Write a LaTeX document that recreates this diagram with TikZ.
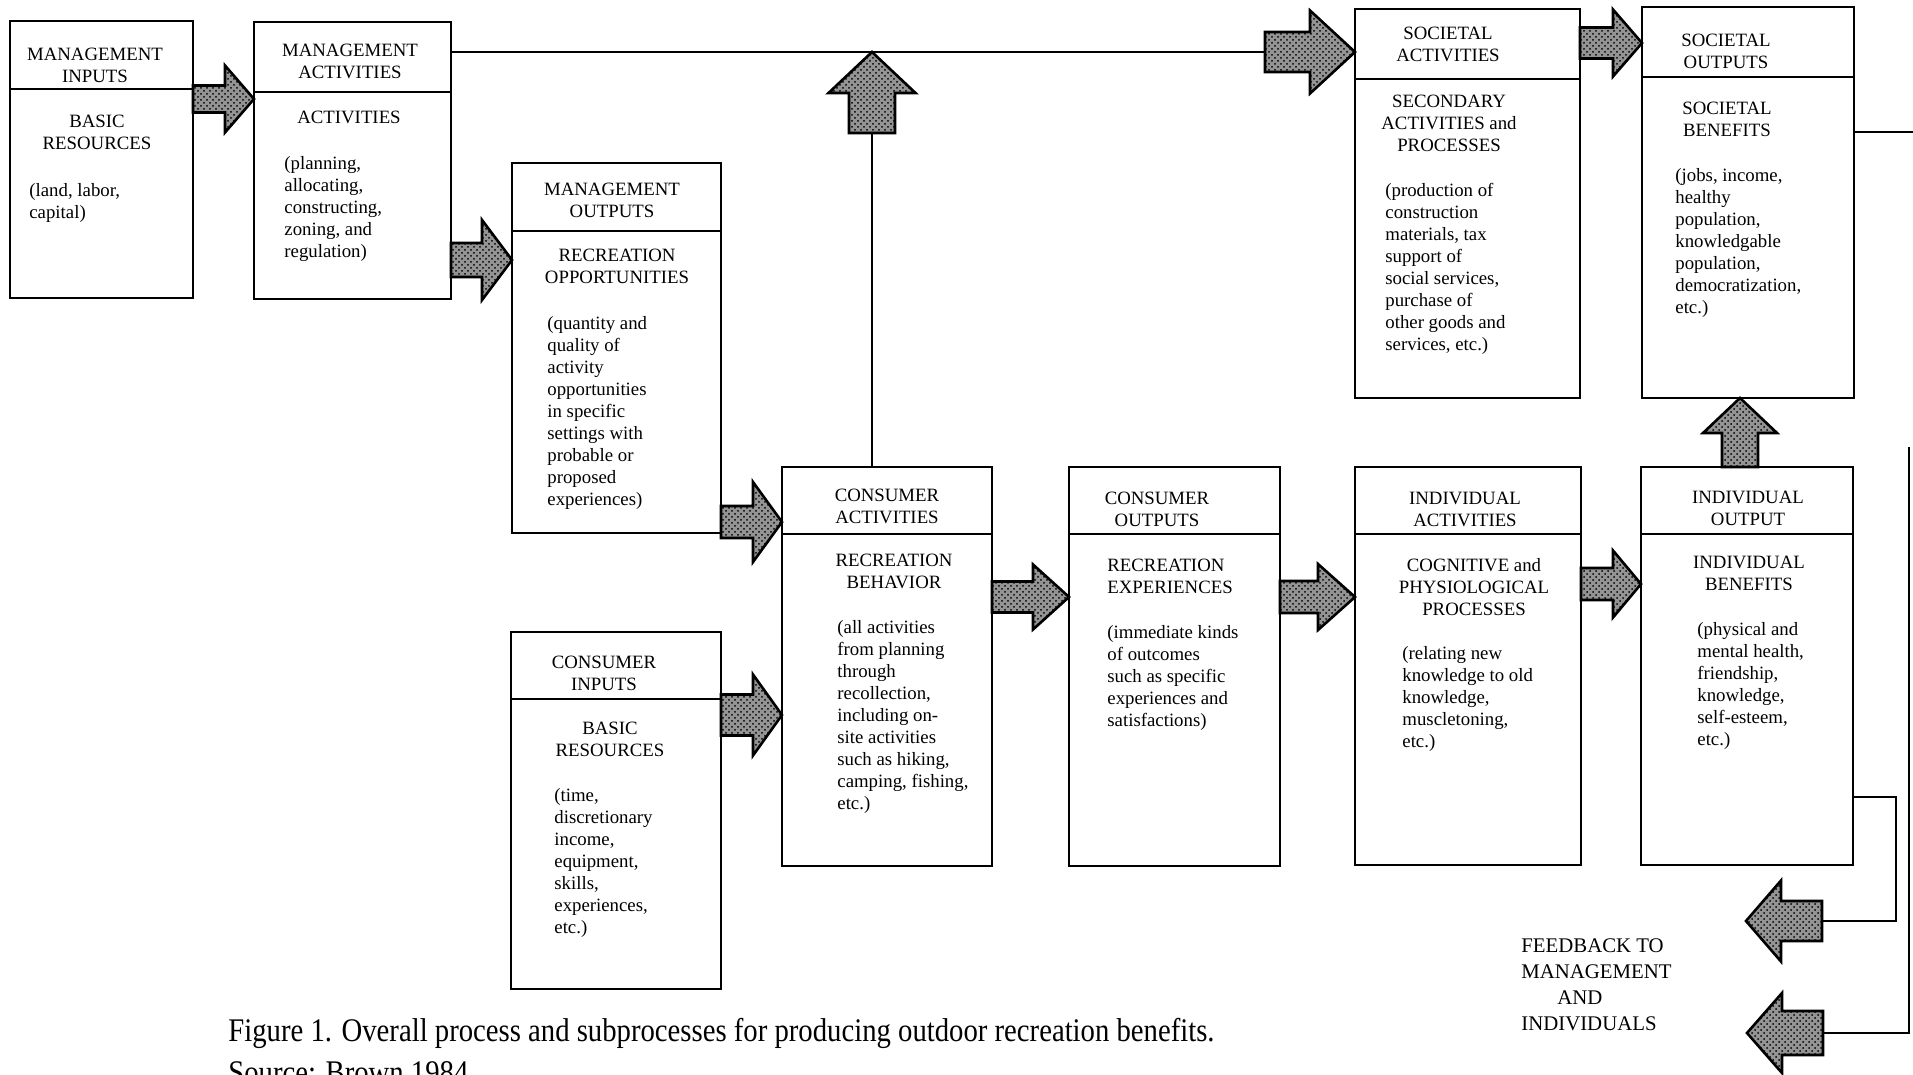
\documentclass[tikz,border=0pt]{standalone}
\usepackage{fontspec}
\usepackage{graphicx}
\setmainfont{Liberation Serif}
\usetikzlibrary{patterns}

\tikzset{
  hdr/.style={draw, line width=1.3pt, anchor=north west, inner sep=0pt, outer sep=0pt},
  bdy/.style={draw, line width=1.3pt, anchor=north west, inner sep=0pt, outer sep=0pt},
  hdt/.style={align=center, inner sep=0pt},
  ttl/.style={anchor=north, align=center, inner sep=0pt},
  dtl/.style={anchor=north west, align=left, inner sep=0pt, yshift=-1.5pt},
  blk/.style={draw, line width=1.3pt, preaction={fill=black!42}, pattern=crosshatch dots},
  wire/.style={line width=1pt},
}

% block arrow: tip, angle, length, shaft, head length, head width
\newcommand{\blockarrow}[6]{%
  \draw[blk, shift={#1}, rotate=#2] (0,0) -- (-#5,#6/2) -- (-#5,#4/2) -- (-#3,#4/2)
    -- (-#3,-#4/2) -- (-#5,-#4/2) -- (-#5,-#6/2) -- cycle;}

\begin{document}
\begin{tikzpicture}[x=0.5pt, y=-0.5pt, font=\fontsize{9.4}{11}\selectfont]
  \useasboundingbox (0,0) rectangle (1913,1075);

  % management side
  \node[hdr, minimum width=91.5pt, minimum height=34pt] (mih) at (10,21) {};
  \node[bdy, minimum width=91.5pt, minimum height=104.5pt] (mib) at (mih.south west) {};
  \node[hdt] (mil) at (95,65) {MANAGEMENT\\INPUTS};
  \node[ttl] (mit) at (97,115) {BASIC\\RESOURCES};
  \node[dtl] (mid) at (29,180) {(land, labor,\\capital)};

  \node[hdr, minimum width=98.5pt, minimum height=35pt] (mah) at (254,22) {};
  \node[bdy, minimum width=98.5pt, minimum height=103.5pt] (mab) at (mah.south west) {};
  \node[hdt] (mal) at (350,61) {MANAGEMENT\\ACTIVITIES};
  \node[ttl] (mat) at (349,111) {ACTIVITIES};
  \node[dtl] (mad) at (284,153) {(planning,\\allocating,\\constructing,\\zoning, and\\regulation)};

  \node[hdr, minimum width=104.5pt, minimum height=34pt] (moh) at (512,163) {};
  \node[bdy, minimum width=104.5pt, minimum height=151pt] (mob) at (moh.south west) {};
  \node[hdt] (mol) at (612,200) {MANAGEMENT\\OUTPUTS};
  \node[ttl] (mot) at (617,249) {RECREATION\\OPPORTUNITIES};
  \node[dtl] (mod) at (547,313) {(quantity and\\quality of\\activity\\opportunities\\in specific\\settings with\\probable or\\proposed\\experiences)};

  % consumer side
  \node[hdr, minimum width=105pt, minimum height=33.5pt] (cih) at (511,632) {};
  \node[bdy, minimum width=105pt, minimum height=145pt] (cib) at (cih.south west) {};
  \node[hdt] (cil) at (604,673) {CONSUMER\\INPUTS};
  \node[ttl] (cit) at (610,722) {BASIC\\RESOURCES};
  \node[dtl] (cid) at (554,785) {(time,\\discretionary\\income,\\equipment,\\skills,\\experiences,\\etc.)};

  \node[hdr, minimum width=105pt, minimum height=33.5pt] (cah) at (782,467) {};
  \node[bdy, minimum width=105pt, minimum height=166pt] (cab) at (cah.south west) {};
  \node[hdt] (cal) at (887,506) {CONSUMER\\ACTIVITIES};
  \node[ttl] (cat) at (894,554) {RECREATION\\BEHAVIOR};
  \node[dtl] (cad) at (837,617) {(all activities\\from planning\\through\\recollection,\\including on-\\site activities\\such as hiking,\\camping, fishing,\\etc.)};

  \node[hdr, minimum width=105.5pt, minimum height=33.5pt] (coh) at (1069,467) {};
  \node[bdy, minimum width=105.5pt, minimum height=166pt] (cob) at (coh.south west) {};
  \node[hdt] (col) at (1157,509) {CONSUMER\\OUTPUTS};
  \node[dtl] (cot) at (1107,556) {RECREATION\\EXPERIENCES};
  \node[dtl] (cod) at (1107,622) {(immediate kinds\\of outcomes\\such as specific\\experiences and\\satisfactions)};

  % individual side
  \node[hdr, minimum width=113pt, minimum height=33.5pt] (iah) at (1355,467) {};
  \node[bdy, minimum width=113pt, minimum height=165.5pt] (iab) at (iah.south west) {};
  \node[hdt] (ial) at (1465,509) {INDIVIDUAL\\ACTIVITIES};
  \node[ttl] (iat) at (1474,558) {COGNITIVE and\\PHYSIOLOGICAL\\PROCESSES};
  \node[dtl] (iad) at (1402,643) {(relating new\\knowledge to old\\knowledge,\\muscletoning,\\etc.)};

  \node[hdr, minimum width=106pt, minimum height=33.5pt] (ioh) at (1641,467) {};
  \node[bdy, minimum width=106pt, minimum height=165.5pt] (iob) at (ioh.south west) {};
  \node[hdt] (iol) at (1748,508) {INDIVIDUAL\\OUTPUT};
  \node[ttl] (iot) at (1749,556) {INDIVIDUAL\\BENEFITS};
  \node[dtl] (iod) at (1697,619) {(physical and\\mental health,\\friendship,\\knowledge,\\self-esteem,\\etc.)};

  % societal side
  \node[hdr, minimum width=112.5pt, minimum height=35pt] (sah) at (1355,9) {};
  \node[bdy, minimum width=112.5pt, minimum height=159.5pt] (sab) at (sah.south west) {};
  \node[hdt] (sal) at (1448,44) {SOCIETAL\\ACTIVITIES};
  \node[ttl] (sat) at (1449,95) {SECONDARY\\ACTIVITIES and\\PROCESSES};
  \node[dtl] (sad) at (1385,180) {(production of\\construction\\materials, tax\\support of\\social services,\\purchase of\\other goods and\\services, etc.)};

  \node[hdr, minimum width=106pt, minimum height=35pt] (soh) at (1642,7) {};
  \node[bdy, minimum width=106pt, minimum height=160.5pt] (sob) at (soh.south west) {};
  \node[hdt] (sol) at (1726,51) {SOCIETAL\\OUTPUTS};
  \node[ttl] (sot) at (1727,102) {SOCIETAL\\BENEFITS};
  \node[dtl] (sod) at (1675,165) {(jobs, income,\\healthy\\population,\\knowledgable\\population,\\democratization,\\etc.)};

  % feedback
  \node[dtl, yshift=1.5pt, font=\fontsize{10.4}{13}\selectfont] (fbt) at (1521,938) {FEEDBACK TO\\MANAGEMENT\\\hspace*{18pt}AND\\INDIVIDUALS};
  \coordinate (fbA) at (1746,921);
  \coordinate (fbB) at (1747,1033);
  \coordinate (rt) at (1909,447);

  % caption
  \node[anchor=base west, inner sep=0pt, font=\fontsize{16.5}{20}\selectfont] (cap) at (228,1041)
    {\scalebox{0.87}[1]{Figure 1. Overall process and subprocesses for producing outdoor recreation benefits.}};
  \node[anchor=base west, inner sep=0pt, font=\fontsize{16.5}{20}\selectfont] (src) at (228,1083)
    {\scalebox{0.87}[1]{Source: Brown 1984}};

  % lines
  \coordinate (jn) at (872,52);
  \draw[wire] (mah.east |- jn) -- (sah.west |- jn);
  \draw[wire] (cah.north -| jn) -- (jn);
  \draw[wire] (sob.east |- 0,132) -- ++(80,0);
  \draw[wire] (iob.east |- 0,797) -| (1896,921) -- (fbA);
  \draw[wire] (rt) -- (rt |- fbB) -- (fbB);

  % block arrows
  \blockarrow{(mab.west |- 0,99)}{0}{61}{27}{29}{67}
  \blockarrow{(mob.west |- 0,260)}{0}{61}{34}{30}{80}
  \blockarrow{(cab.west |- 0,522)}{0}{61}{32}{29}{80}
  \blockarrow{(cab.west |- 0,715)}{0}{61}{41}{29}{81}
  \blockarrow{(cob.west |- 0,597)}{0}{77}{31}{36}{65}
  \blockarrow{(iab.west |- 0,597)}{0}{75}{32}{37}{66}
  \blockarrow{(iob.west |- 0,584)}{0}{60}{32}{28}{67}
  \blockarrow{(sah.west |- jn)}{0}{90}{40}{45}{83}
  \blockarrow{(soh.west |- 0,43)}{0}{62}{31}{29}{67}
  \blockarrow{(sob.south -| 1740,0)}{90}{69}{36}{35}{74}
  \blockarrow{(jn)}{90}{81}{46}{41}{87}
  \blockarrow{(fbA)}{180}{76}{40}{35}{81}
  \blockarrow{(fbB)}{180}{76}{44}{35}{80}
\end{tikzpicture}
\end{document}
